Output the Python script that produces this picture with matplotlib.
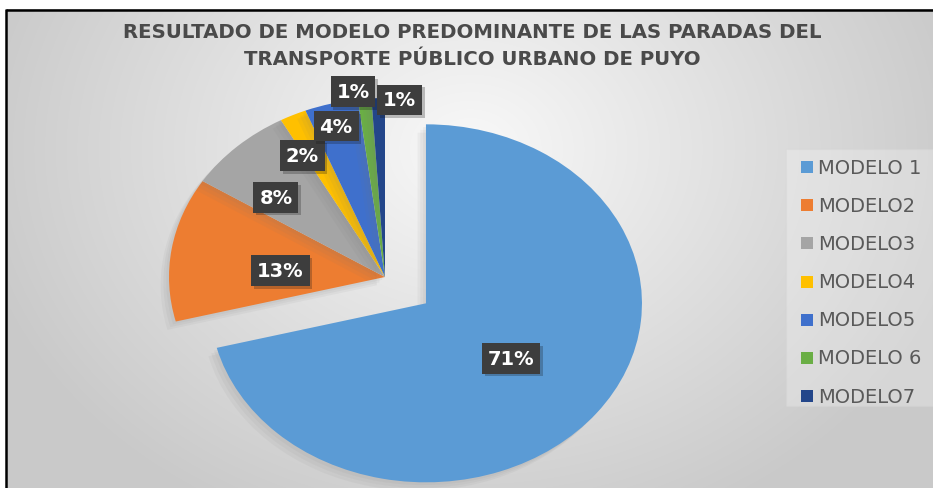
import numpy as np
import matplotlib
matplotlib.use("Agg")
import matplotlib.pyplot as plt
import matplotlib.patheffects as pe
from matplotlib.patches import Rectangle

# Parada models and their share of stops
modelos = ["MODELO 1", "MODELO2", "MODELO3", "MODELO4", "MODELO5", "MODELO 6", "MODELO7"]
porcentajes = [71, 13, 8, 2, 4, 1, 1]
colores = ["#5B9BD5", "#ED7D31", "#A5A5A5", "#FFC000", "#3F70CC", "#6AAE45", "#23468A"]

titulo = "RESULTADO DE MODELO PREDOMINANTE DE LAS PARADAS DEL\nTRANSPORTE PÚBLICO URBANO DE PUYO"

W, H = 933, 489
fig = plt.figure(figsize=(W / 100, H / 100), dpi=100)
fig.patch.set_facecolor("white")

# background panel in pixel units
bg = fig.add_axes([0, 0, 1, 1])
bg.axis("off")

yy, xx = np.mgrid[10:H, 6:W]
d = np.sqrt(((xx - 470) / 520.0) ** 2 + ((yy - 150) / 420.0) ** 2)
shade = np.clip(0.975 - 0.19 * d, 0.79, 0.975)
bg.imshow(np.dstack([shade] * 3), extent=(6, W, H, 10), interpolation="bilinear", zorder=0)
bg.plot([5.5, W], [10.5, 10.5], color="black", lw=1.8, solid_capstyle="butt", zorder=1)
bg.plot([5.5, 5.5], [10, H], color="black", lw=1.8, solid_capstyle="butt", zorder=1)
bg.set_xlim(0, W)
bg.set_ylim(H, 0)

fig.text(472 / W, 1 - 46 / H, titulo, ha="center", va="center", fontsize=14.2,
         fontweight="bold", color="#4a4a4a", linespacing=1.5, family="DejaVu Sans")

# pie: 1 data unit = 216 px horizontally, 179 px vertically
rx, ry = 216.0, 179.0
cx, cy = 385.0, 278.0
xl, yl = 1.5, 1.25
ax = fig.add_axes([(cx - xl * rx) / W, (H - (cy + yl * ry)) / H, 2 * xl * rx / W, 2 * yl * ry / H])
explode = [0.24, 0, 0, 0, 0, 0, 0]
wedges, _ = ax.pie(porcentajes, colors=colores, startangle=90, counterclock=False,
                   explode=explode, wedgeprops=dict(linewidth=0))
ax.set_aspect("auto")
ax.set_xlim(-xl, xl)
ax.set_ylim(-yl, yl)
ax.axis("off")
soft = [pe.SimplePatchShadow(offset=(-k, -k), shadow_rgbFace="#777777", alpha=0.07) for k in (2, 4, 6)]
for w in wedges:
    w.set_path_effects(soft + [pe.Normal()])

# data labels along each wedge bisector
radio = [0.50, 0.49, 0.68, 0.76, 0.87, 1.04, 1.00]
ajuste = [(0.0, 0.0), (0.0, -0.04), (-0.04, -0.05), (-0.06, -0.01), (-0.01, 0.0), (-0.05, 0.0), (0.10, -0.01)]
for w, v, r, (dx, dy) in zip(wedges, porcentajes, radio, ajuste):
    ang = np.deg2rad((w.theta1 + w.theta2) / 2)
    x = w.center[0] + r * np.cos(ang) + dx
    y = w.center[1] + r * np.sin(ang) + dy
    t = ax.text(x, y, f"{v}%", ha="center", va="center", color="white", fontsize=14,
                fontweight="bold", zorder=5,
                bbox=dict(boxstyle="square,pad=0.3", fc="#3d3d3d", ec="none"))
    t.get_bbox_patch().set_path_effects([pe.SimplePatchShadow(offset=(2, -2), alpha=0.25), pe.Normal()])

# legend
bg.add_patch(Rectangle((786, 150), W - 786, 257, fc="white", alpha=0.25, ec="#d4d4d4", lw=0.8, zorder=2))
for i, (m, c) in enumerate(zip(modelos, colores)):
    yc = 168 + i * 38.2
    bg.add_patch(Rectangle((801, yc - 6), 12, 12, fc=c, ec="none", zorder=3))
    bg.text(818, yc, m, ha="left", va="center", fontsize=14, color="#595959", zorder=3)

fig.savefig("out.png", dpi=100)
